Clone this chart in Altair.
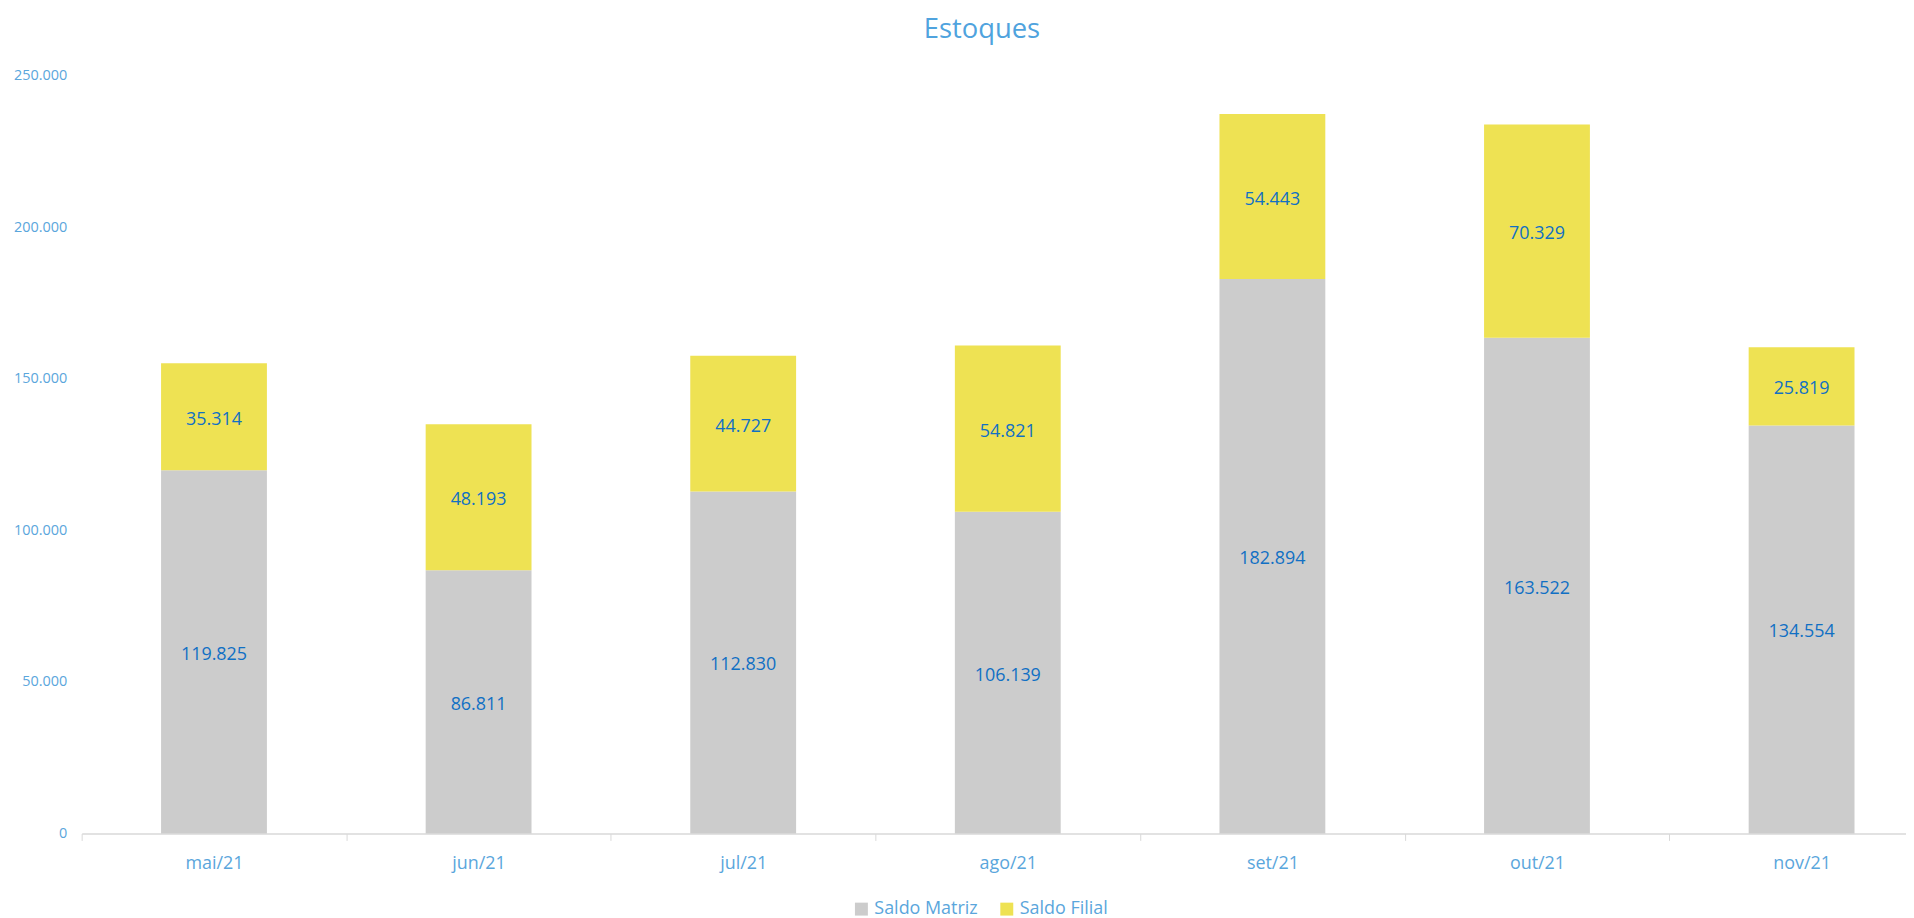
import altair as alt
import pandas as pd

meses = ["mai/21", "jun/21", "jul/21", "ago/21", "set/21", "out/21", "nov/21"]
saldo_matriz = [119825, 86811, 112830, 106139, 182894, 163522, 134554]
saldo_filial = [35314, 48193, 44727, 54821, 54443, 70329, 25819]
series = ["Saldo Matriz", "Saldo Filial"]
cores = ["#CCCCCC", "#EEE253"]
y_ticks = [0, 50000, 100000, 150000, 200000, 250000]

rows = []
for i, m in enumerate(meses):
    rows.append({"mes": m, "serie": series[0], "ordem": 0, "valor": saldo_matriz[i]})
    rows.append({"mes": m, "serie": series[1], "ordem": 1, "valor": saldo_filial[i]})
df = pd.DataFrame(rows)

FONT = "Open Sans"
LIGHT = "#5AA6DC"
DARK = "#1170C4"
RANGE_W = 1860
HALF_STEP = RANGE_W / len(meses) / 2

base = alt.Chart(df).transform_stack(
    stack="valor",
    groupby=["mes"],
    sort=[alt.SortField("ordem", order="ascending")],
    as_=["y0", "y1"],
).transform_calculate(mid="(datum.y0 + datum.y1) / 2")

x = alt.X(
    "mes:N",
    sort=meses,
    title=None,
    scale=alt.Scale(range=[0, RANGE_W], paddingInner=0.6, paddingOuter=0.3),
    axis=alt.Axis(
        labelAngle=0,
        labelFont=FONT,
        labelFontSize=18,
        labelColor=LIGHT,
        labelPadding=14,
        tickOffset=-HALF_STEP,
        labelOffset=HALF_STEP,
        tickSize=7,
        tickColor="#D9D9D9",
        domainColor="#D9D9D9",
        domainWidth=1.5,
        grid=False,
    ),
)

bars = base.mark_bar().encode(
    x=x,
    y=alt.Y(
        "y0:Q",
        title=None,
        scale=alt.Scale(domain=[0, 250000], nice=False),
        axis=alt.Axis(
            values=y_ticks,
            format=",d",
            labelFont=FONT,
            labelFontSize=14.5,
            labelColor=LIGHT,
            labelPadding=15,
            ticks=False,
            tickSize=0,
            domain=False,
            grid=False,
        ),
    ),
    y2="y1:Q",
    color=alt.Color(
        "serie:N",
        scale=alt.Scale(domain=series, range=cores),
        legend=alt.Legend(
            title=None,
            orient="none",
            direction="horizontal",
            legendX=774,
            legendY=828,
            symbolType="square",
            symbolSize=169,
            symbolStrokeWidth=0,
            labelFont=FONT,
            labelFontSize=18,
            labelColor=LIGHT,
            labelOffset=4,
            columnPadding=20,
        ),
    ),
)

labels = base.mark_text(font=FONT, fontSize=18, color=DARK, dy=3).encode(
    x=alt.X("mes:N", sort=meses),
    y=alt.Y("mid:Q"),
    text=alt.Text("valor:Q", format=",d"),
)

chart = (
    alt.layer(bars, labels)
    .properties(
        width=1832,
        height=761,
        autosize=alt.AutoSizeParams(type="none"),
        padding={"left": 74, "top": 66, "right": 0, "bottom": 84},
        title=alt.TitleParams(
            "Estoques",
            font=FONT,
            fontSize=27.5,
            fontWeight="normal",
            color="#4FA3DE",
            anchor="middle",
            baseline="alphabetic",
            offset=2,
            dx=-12,
        ),
    )
    .configure(
        locale={"number": {"decimal": ",", "thousands": ".", "grouping": [3], "currency": ["R$", ""]}}
    )
    .configure_view(stroke=None)
)

chart.save("out.html", embed_options={"renderer": "svg", "actions": False})
